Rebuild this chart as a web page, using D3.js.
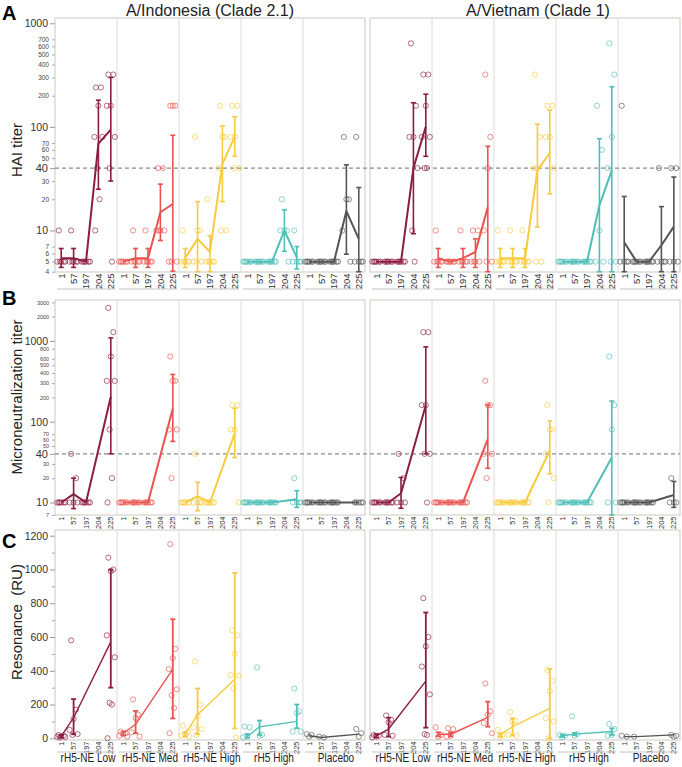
<!DOCTYPE html>
<html>
<head>
<meta charset="utf-8">
<script src="https://cdn.jsdelivr.net/npm/d3@7"></script>
<style>
body { margin: 0; background: #fff; }
svg { font-family: "Liberation Sans", Arial, sans-serif; }
</style>
</head>
<body>
<svg width="682" height="767"></svg>
<script>
"use strict"

var strains = ["A/Indonesia (Clade 2.1)", "A/Vietnam (Clade 1)"];
var groups = ["rH5-NE Low", "rH5-NE Med", "rH5-NE High", "rH5 High", "Placebo"];
var days = ["1", "57", "197", "204", "225"];
var colors = ["#8c1d40", "#ea5450", "#f8cb3e", "#4fbfb7", "#555555"];

var haiMajor = [10, 40, 100, 1000];
var haiMinor = [4, 5, 6, 7, 20, 30, 50, 60, 70, 200, 300, 400, 500, 600, 700];
var mnMajor = [10, 40, 100, 1000];
var mnMinor = [7, 20, 30, 50, 60, 70, 200, 300, 400, 500, 600, 800, 2000, 3000];
var spMajor = [0, 200, 400, 600, 800, 1000, 1200];
var spMinor = [100, 300, 500, 700, 900, 1100];

/* geometric means, error bar ends and single subjects, per group, days 1..225 */
var haiIndo = [
    {mean: [5.4, 5.4, 5, 69, 94], lo: [4.4, 4.4, null, 25, 30], hi: [6.7, 6.7, null, 181, 300],
     pts: [[10, 5, 5, 5, 5, 5], [10, 5, 5, 5, 5, 5], [5, 5, 5, 5, 5, 5], [240, 240, 160, 80, 80, 40, 20, 10], [320, 320, 160, 160, 80, 40, 5]]},
    {mean: [5, 5.4, 5.4, 15, 18], lo: [null, 4.4, 4.4, 8, 4.05], hi: [null, 6.7, 6.7, 28, 83],
     pts: [[5, 5, 5, 5, 5, 5], [10, 5, 5, 5, 5, 5], [10, 5, 5, 5, 5, 5], [40, 40, 10, 10, 10, 10], [160, 160, 160, 5, 5, 5]]},
    {mean: [5.4, 8.3, 6.2, 44, 80], lo: [4.4, 3.6, 3.6, 19, 52], hi: [6.7, 19, 8.9, 102, 125],
     pts: [[10, 5, 5, 5, 5, 5], [80, 10, 10, 5, 5, 5], [20, 5, 5, 5, 5, 5], [160, 80, 80, 40, 10, 10], [160, 160, 80, 80, 40, 40]]},
    {mean: [5, 5, 5, 10, 5.5], lo: [null, null, null, 6.3, 4.25], hi: [null, null, null, 15.8, 7],
     pts: [[5, 5, 5, 5, 5, 5], [5, 5, 5, 5, 5, 5], [5, 5, 5, 5, 5, 5], [20, 10, 10, 10, 5], [10, 5, 5, 5, 5]]},
    {mean: [5, 5, 5, 15.4, 8.3], lo: [null, null, null, 5.9, 3.5], hi: [null, null, null, 43, 26],
     pts: [[5, 5, 5, 5, 5, 5], [5, 5, 5, 5, 5, 5], [5, 5, 5, 5, 5, 5], [80, 20, 20, 10, 5], [80, 5, 5, 5, 5]]}
];
var haiViet = [
    {mean: [5, 5, 5, 40, 101], lo: [null, null, null, 9.3, 52], hi: [null, null, null, 171, 207],
     pts: [[5, 5, 5, 5, 5, 5], [5, 5, 5, 5, 5, 5], [5, 5, 5, 5, 5, 5], [640, 160, 80, 80, 40, 10, 5], [320, 320, 160, 80, 80, 40, 40]]},
    {mean: [5.4, 5, 5.4, 6.2, 16.8], lo: [4.4, null, 4.4, 4.4, 3.8], hi: [6.7, null, 6.7, 8.3, 65],
     pts: [[10, 5, 5, 5, 5, 5], [5, 5, 5, 5, 5, 5], [10, 5, 5, 5, 5, 5], [10, 10, 5, 5, 5, 5], [320, 80, 40, 10, 5, 5]]},
    {mean: [5.4, 5.4, 5.4, 38, 56], lo: [4.4, 4.4, 4.4, 10.8, 22.6], hi: [6.7, 6.7, 6.7, 106, 145],
     pts: [[10, 5, 5, 5, 5, 5], [10, 5, 5, 5, 5, 5], [10, 5, 5, 5, 5, 5], [320, 80, 40, 40, 5, 5], [160, 160, 80, 80, 40]]},
    {mean: [5, 5, 5, 17.5, 38], lo: [null, null, null, 3.5, 3.5], hi: [null, null, null, 77, 244],
     pts: [[5, 5, 5, 5, 5, 5], [5, 5, 5, 5, 5, 5], [5, 5, 5, 5, 5, 5], [160, 60, 10, 5, 5], [640, 320, 80, 40, 5, 5]]},
    {mean: [7.7, 5, 5, 7.2, 10.9], lo: [3.5, null, null, 3.5, 3.5], hi: [21.3, null, null, 17, 32.8],
     pts: [[160, 5, 5, 5, 5], [5, 5, 5, 5, 5, 5], [5, 5, 5, 5, 5, 5], [40, 5, 5, 5, 5], [40, 40, 5, 5, 5]]}
];

var mnIndo = [
    {mean: [10, 12.7, 10, null, 204], lo: [null, 8.4, null, null, 40], hi: [null, 20, null, null, 1089],
     pts: [[10, 10, 10, 10, 10, 10], [40, 20, 10, 10, 10], [10, 10, 10, 10, 10, 10], [], [2560, 1280, 640, 320, 320, 80, 20, 10]]},
    {mean: [10, 10, 10, null, 146], lo: [null, null, null, null, 57], hi: [null, null, null, null, 384],
     pts: [[10, 10, 10, 10, 10, 10], [10, 10, 10, 10, 10, 10], [10, 10, 10, 10, 10, 10], [], [640, 320, 320, 80, 80, 20]]},
    {mean: [10, 11.9, 10, null, 72], lo: [null, 7.9, null, null, 36], hi: [null, 17.8, null, null, 146],
     pts: [[10, 10, 10, 10, 10, 10], [40, 10, 10, 10, 10], [10, 10, 10, 10, 10, 10], [], [160, 160, 80, 80, 10]]},
    {mean: [10, 10, 10, null, 11], lo: [null, null, null, null, 8.7], hi: [null, null, null, null, 14],
     pts: [[10, 10, 10, 10, 10, 10], [10, 10, 10, 10, 10, 10], [10, 10, 10, 10, 10, 10], [], [20, 10, 10, 10, 10]]},
    {mean: [10, 10, 10, null, 10], lo: [null, null, null, null, null], hi: [null, null, null, null, null],
     pts: [[10, 10, 10, 10, 10, 10], [10, 10, 10, 10, 10, 10], [10, 10, 10, 10, 10, 10], [], [10, 10, 10, 10, 10]]}
];
var mnViet = [
    {mean: [10, 10, 13, null, 161], lo: [null, null, 8.5, null, 40], hi: [null, null, 20.4, null, 843],
     pts: [[10, 10, 10, 10, 10, 10], [10, 10, 10, 10, 10, 10], [40, 20, 10, 10, 10], [], [1280, 1280, 160, 160, 40, 40, 10]]},
    {mean: [10, 10, 10, null, 61], lo: [null, null, null, null, 26.5], hi: [null, null, null, null, 161],
     pts: [[10, 10, 10, 10, 10, 10], [10, 10, 10, 10, 10, 10], [10, 10, 10, 10, 10, 10], [], [320, 160, 160, 40, 40, 20]]},
    {mean: [10, 10, 10, null, 44], lo: [null, null, null, null, 22.6], hi: [null, null, null, null, 102],
     pts: [[10, 10, 10, 10, 10, 10], [10, 10, 10, 10, 10, 10], [10, 10, 10, 10, 10, 10], [], [160, 80, 80, 40, 20, 10]]},
    {mean: [10, 10, 10, null, 36], lo: [null, null, null, null, 6.8], hi: [null, null, null, null, 180],
     pts: [[10, 10, 10, 10, 10, 10], [10, 10, 10, 10, 10, 10], [10, 10, 10, 10, 10, 10], [], [640, 160, 80, 10, 10]]},
    {mean: [10, 10, 10, null, 12.4], lo: [null, null, null, null, 8.7], hi: [null, null, null, null, 18.2],
     pts: [[10, 10, 10, 10, 10, 10], [10, 10, 10, 10, 10, 10], [10, 10, 10, 10, 10, 10], [], [20, 10, 10, 10]]}
];

var spIndo = [
    {mean: [12, 122, null, null, 571], lo: [5, 24, null, null, 300], hi: [20, 232, null, null, 999],
     pts: [[20, 15, 12, 10, 8, 5], [580, 170, 115, 50, 25, 20], [], [], [1070, 1000, 990, 610, 480, 210, 200, 0]]},
    {mean: [30, 83, null, null, 410], lo: [18, 30, null, null, 118], hi: [40, 162, null, null, 705],
     pts: [[40, 30, 25, 15, 10], [230, 140, 120, 35, 10], [], [], [1150, 530, 475, 410, 290, 255, 180, 30]]},
    {mean: [25, 140, null, null, 350], lo: [12, 24, null, null, 58], hi: [38, 295, null, null, 980],
     pts: [[75, 40, 20, 15, 10], [455, 200, 130, 65, 55, 20], [], [], [640, 610, 500, 375, 370, 295, 5]]},
    {mean: [10, 68, null, null, 100], lo: [3, 20, null, null, 60], hi: [25, 105, null, null, 200],
     pts: [[70, 65, 10, 5], [420, 20, 15], [], [], [295, 160, 150, 40, 40]]},
    {mean: [15, 5, null, null, 25], lo: [null, null, null, null, null], hi: [null, null, null, null, null],
     pts: [[25, 20, 10], [10, 5], [], [], [55, 30, 10]]}
];
var spViet = [
    {mean: [15, 55, null, null, 339], lo: [5, 10, null, null, 63], hi: [25, 122, null, null, 745],
     pts: [[20, 15, 10, 5], [135, 110, 95, 20, 15], [], [], [830, 600, 545, 425, 260, 25, 20]]},
    {mean: [24, 24, null, null, 124], lo: [12, 12, null, null, 69], hi: [36, 36, null, null, 217],
     pts: [[65, 20, 10], [60, 55, 15, 10], [], [], [325, 160, 140, 90, 30]]},
    {mean: [20, 69, null, null, 177], lo: [10, 16, null, null, 0], hi: [30, 118, null, null, 410],
     pts: [[50, 20, 10], [155, 105, 100, 20, 15], [], [], [405, 340, 280, 120, 100, 0]]},
    {mean: [15, 25, null, null, 40], lo: [8, 18, null, null, 20], hi: [22, 32, null, null, 59],
     pts: [[20, 15, 5], [130, 25, 15], [], [], [85, 55, 20, 15]]},
    {mean: [10, 10, null, null, 20], lo: [null, null, null, null, null], hi: [null, null, null, null, null],
     pts: [[15, 10], [10], [], [], [20, 15, 10]]}
];

var svg = d3.select("svg");

var xHalf = d3.scaleBand().domain(strains).range([55, 680]).paddingInner(0.016);
var xGroup = d3.scaleBand().domain(groups).range([0, xHalf.bandwidth()]);
var xDay = d3.scaleBand().domain(days).range([0, xGroup.bandwidth()]);
var jit = [-2.5, 2.5, 0, -4, 4, -1.2, 1.2, -3.2, 3.2];

var panels = [
    {letter: "A", letterY: 20, label: "HAI titer", labelY: 150, top: 18, bottom: 272,
     y: d3.scaleLog().domain([4, 1000]).range([271.7, 23.3]).clamp(true),
     major: haiMajor, minor: haiMinor, data: [haiIndo, haiViet], ref: 40,
     tickFont: 9.5, minorFont: 6.5, underline: 289, lineW: 2, barW: 1.6},
    {letter: "B", letterY: 305, label: "Microneutralization titer", labelY: 397, top: 300, bottom: 515,
     y: d3.scaleLog().domain([7, 3000]).range([515, 302.3]).clamp(true),
     major: mnMajor, minor: mnMinor, data: [mnIndo, mnViet], ref: 40,
     tickFont: 7.5, minorFont: 5.4, underline: null, lineW: 2, barW: 1.6},
    {letter: "C", letterY: 548, label: "Resonance  (RU)", labelY: 622, top: 530, bottom: 740,
     y: d3.scaleLinear().domain([0, 1200]).range([738.3, 535.7]).clamp(true),
     major: spMajor, minor: spMinor, data: [spIndo, spViet], ref: null,
     tickFont: 7.5, minorFont: 6, underline: 752, lineW: 1.4, barW: 1.8}
];

var draw_panel = function(p) {
    var g = svg.append("g");

    strains.forEach(function(s) {
        var x0 = xHalf(s);
        g.append("rect")
            .attr("x", x0).attr("y", p.top)
            .attr("width", xHalf.bandwidth()).attr("height", p.bottom - p.top)
            .attr("fill", "none").attr("stroke", "#d6d3ca").attr("stroke-width", 1.2);
        groups.slice(1).forEach(function(gr) {
            g.append("line")
                .attr("x1", x0 + xGroup(gr)).attr("x2", x0 + xGroup(gr))
                .attr("y1", p.top).attr("y2", p.bottom)
                .attr("stroke", "#dcdcdc");
        });
    });

    if (p.ref) {
        g.append("line")
            .attr("x1", 55).attr("x2", 680)
            .attr("y1", p.y(p.ref)).attr("y2", p.y(p.ref))
            .attr("stroke", "#8a8a8a").attr("stroke-width", 1.3)
            .attr("stroke-dasharray", "4,3");
    }

    strains.forEach(function(s, si) {
        p.data[si].forEach(function(row, gi) {
            var col = colors[gi],
                x0 = xHalf(s) + xGroup(groups[gi]),
                cx = function(di) { return x0 + xDay(days[di]) + xDay.bandwidth() / 2; };

            row.pts.forEach(function(vals, di) {
                vals.forEach(function(v, i) {
                    g.append("circle")
                        .attr("cx", cx(di) + jit[i % jit.length])
                        .attr("cy", p.y(Math.max(v, p.y.domain()[0])))
                        .attr("r", 2.6)
                        .attr("fill", "none").attr("stroke", col)
                        .attr("stroke-opacity", 0.65).attr("stroke-width", 1);
                });
            });

            row.mean.forEach(function(m, di) {
                if (m === null || row.lo[di] === null) return;
                var yl = p.y(row.lo[di]), yh = p.y(row.hi[di]);
                g.append("line").attr("x1", cx(di)).attr("x2", cx(di))
                    .attr("y1", yl).attr("y2", yh)
                    .attr("stroke", col).attr("stroke-width", p.barW);
                [yl, yh].forEach(function(yy) {
                    g.append("line").attr("x1", cx(di) - 2.5).attr("x2", cx(di) + 2.5)
                        .attr("y1", yy).attr("y2", yy)
                        .attr("stroke", col).attr("stroke-width", p.barW);
                });
            });

            var line = d3.line()
                .x(function(d) { return cx(d.i); })
                .y(function(d) { return p.y(d.v); });
            var pts = row.mean.map(function(v, i) { return {v: v, i: i}; })
                .filter(function(d) { return d.v !== null; });
            g.append("path").datum(pts)
                .attr("d", line)
                .attr("fill", "none").attr("stroke", col)
                .attr("stroke-width", p.lineW).attr("stroke-linejoin", "round");
        });

        /* rotated day labels under each group */
        groups.forEach(function(gr) {
            var x0 = xHalf(s) + xGroup(gr);
            var ax = g.append("g")
                .attr("transform", "translate(" + x0 + "," + p.bottom + ")")
                .call(d3.axisBottom(xDay).tickSize(0));
            ax.select(".domain").remove();
            ax.selectAll("text")
                .attr("transform", "rotate(-90)")
                .attr("x", -1.5).attr("y", 0).attr("dy", "0.35em")
                .attr("text-anchor", "end")
                .attr("fill", "#333")
                .style("font-size", p.tickFont + "px");
            if (p.underline) {
                g.append("line")
                    .attr("x1", x0 + 2).attr("x2", x0 + xGroup.bandwidth() - 2)
                    .attr("y1", p.underline).attr("y2", p.underline)
                    .attr("stroke", "#c4c4c4");
            }
        });
    });

    /* y axis: big labels for the main values, small ones in between */
    var fmt = function(d) { return String(d); };
    var major = g.append("g").attr("transform", "translate(55,0)")
        .call(d3.axisLeft(p.y).tickValues(p.major).tickFormat(fmt).tickSize(5).tickPadding(2));
    major.select(".domain").remove();
    major.selectAll("line").attr("stroke", "#999");
    major.selectAll("text").attr("fill", "#333")
        .style("font-size", function(d) { return (d === 40 ? 11 : 10.5) + "px"; });

    var minor = g.append("g").attr("transform", "translate(55,0)")
        .call(d3.axisLeft(p.y).tickValues(p.minor)
            .tickFormat(p.ref ? fmt : function() { return ""; }).tickSize(3).tickPadding(3));
    minor.select(".domain").remove();
    minor.selectAll("line").attr("stroke", "#aaa");
    minor.selectAll("text").attr("fill", "#444").style("font-size", p.minorFont + "px");

    svg.append("text")
        .attr("x", 2).attr("y", p.letterY)
        .attr("font-weight", "bold").attr("font-size", 20)
        .text(p.letter);

    svg.append("text")
        .attr("transform", "translate(17," + p.labelY + ") rotate(-90)")
        .attr("text-anchor", "middle").attr("dy", "0.35em")
        .attr("font-size", 15).attr("fill", "#222")
        .style("white-space", "pre")
        .text(p.label);
}

panels.forEach(draw_panel);

/* strain titles */
var titleShift = [0, 13];
strains.forEach(function(s, i) {
    svg.append("text")
        .attr("x", xHalf(s) + xHalf.bandwidth() / 2 + titleShift[i]).attr("y", 16)
        .attr("text-anchor", "middle").attr("font-size", 16).attr("fill", "#222")
        .text(s);
});

/* group names under the last panel, slightly narrowed like the original */
strains.forEach(function(s) {
    groups.forEach(function(gr) {
        var cx = xHalf(s) + xGroup(gr) + xGroup.bandwidth() / 2 + 2;
        svg.append("text")
            .attr("transform", "translate(" + cx + ",762) scale(0.84,1)")
            .attr("text-anchor", "middle").attr("font-size", 12).attr("fill", "#222")
            .text(gr);
    });
});
</script>
</body>
</html>
